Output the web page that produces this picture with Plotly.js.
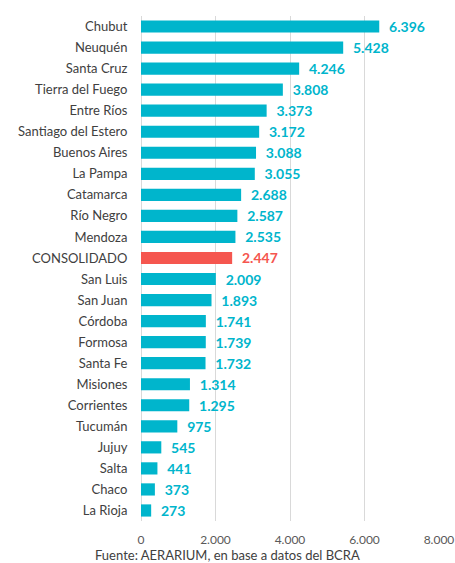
<!DOCTYPE html>
<html><head><meta charset="utf-8">
<script src="https://cdn.plot.ly/plotly-3.0.1.min.js"></script>
<style>html,body{margin:0;padding:0;background:#fff}#chart{width:455px;height:563px}</style>
</head><body><div id="chart"></div>
<script>
const provincias = ["Chubut","Neuquén","Santa Cruz","Tierra del Fuego","Entre Ríos","Santiago del Estero","Buenos Aires","La Pampa","Catamarca","Río Negro","Mendoza","CONSOLIDADO","San Luis","San Juan","Córdoba","Formosa","Santa Fe","Misiones","Corrientes","Tucumán","Jujuy","Salta","Chaco","La Rioja"];
const valores = [6396,5428,4246,3808,3373,3172,3088,3055,2688,2587,2535,2447,2009,1893,1741,1739,1732,1314,1295,975,545,441,373,273];
const destacado = "CONSOLIDADO";
const tickVals = [0,2000,4000,6000,8000];

const teal = "#00B5CC", red = "#F5564F";
const colors = provincias.map(p => p === destacado ? red : teal);

const trace = {
  type: "bar", orientation: "h",
  y: provincias, x: valores,
  marker: {color: colors},
  width: 0.58,
  texttemplate: "\u00a0\u00a0%{x:,.0f}", textposition: "outside", constraintext: "none",
  textfont: {family: "Lato, sans-serif", size: 14, weight: 700, color: colors},
  cliponaxis: false, hoverinfo: "none"
};
const layout = {
  width: 455, height: 563,
  margin: {l: 141, r: 16, t: 16, b: 42},
  separators: ",.",
  showlegend: false,
  plot_bgcolor: "#fff", paper_bgcolor: "#fff",
  font: {family: "Lato, sans-serif", color: "#404040"},
  xaxis: {range: [0, 8000], tickvals: tickVals, tickformat: ",.0f",
          showgrid: true, gridcolor: "#d9d9d9", gridwidth: 1, zeroline: true, zerolinecolor: "#d9d9d9",
          tickfont: {size: 12, color: "#595959"}, ticks: "outside", ticklen: 8, tickcolor: "rgba(0,0,0,0)", fixedrange: true},
  yaxis: {autorange: "reversed", tickfont: {size: 13, color: "#404040"}, ticks: "outside", ticklen: 10, tickcolor: "rgba(0,0,0,0)", showgrid: false},
  annotations: [{text: "Fuente: AERARIUM, en base a datos del BCRA", xref: "paper", yref: "paper",
                 x: 0.29, y: 0, yshift: -24, xanchor: "center", yanchor: "top", showarrow: false,
                 font: {size: 13, color: "#404040"}}]
};
Plotly.newPlot("chart", [trace], layout, {displayModeBar: false, staticPlot: true});
</script></body></html>
